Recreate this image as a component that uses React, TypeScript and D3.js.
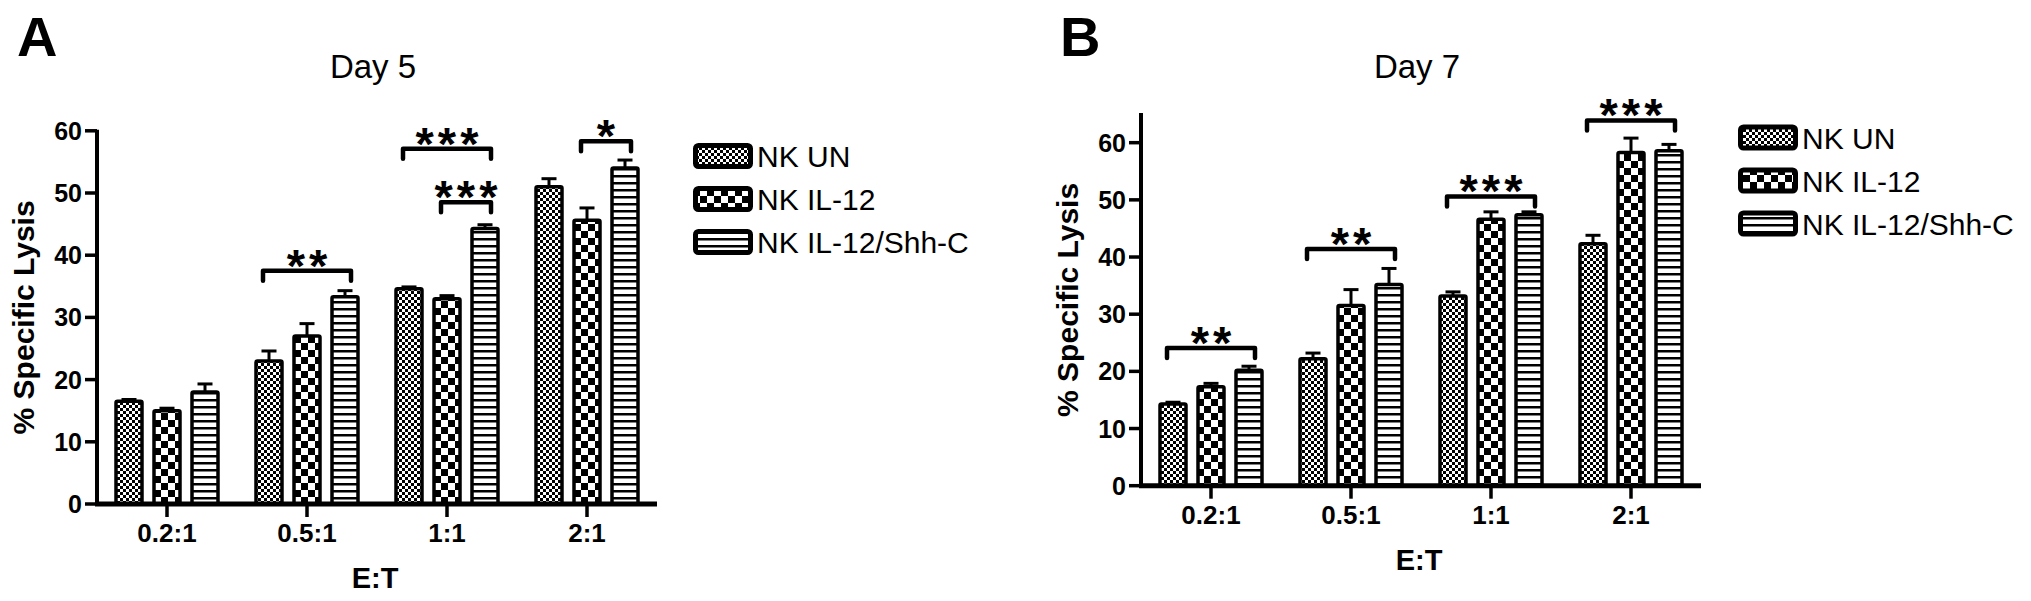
import React from "react";
import * as d3 from "d3";

const categories = ["0.2:1", "0.5:1", "1:1", "2:1"];
const seriesNames = ["NK UN", "NK IL-12", "NK IL-12/Shh-C"];
const patternIds = ["pUN", "pIL", "pSH"];

// Day 5 (panel A)
const day5UN = [16.5, 23, 34.6, 51];
const day5UNErr = [0.3, 1.6, 0.3, 1.3];
const day5IL12 = [15, 27, 33, 45.6];
const day5IL12Err = [0.4, 2, 0.5, 2];
const day5Shh = [18, 33.3, 44.3, 54];
const day5ShhErr = [1.3, 1, 0.6, 1.3];

// Day 7 (panel B)
const day7UN = [14.3, 22.2, 33.2, 42.3];
const day7UNErr = [0.3, 1, 0.7, 1.5];
const day7IL12 = [17.3, 31.5, 46.6, 58.3];
const day7IL12Err = [0.6, 2.8, 1.3, 2.5];
const day7Shh = [20.2, 35.2, 47.4, 58.6];
const day7ShhErr = [0.7, 2.8, 0.5, 1.1];

const yTicks = [0, 10, 20, 30, 40, 50, 60];

// significance brackets: category, from series, to series, bracket height (value), label
const day5Sig = [
  { cat: "0.5:1", from: 0, to: 2, y: 37.5, label: "**" },
  { cat: "1:1", from: 0, to: 2, y: 57.1, label: "***" },
  { cat: "1:1", from: 1, to: 2, y: 48.5, label: "***" },
  { cat: "2:1", from: 1, to: 2, y: 58.3, label: "*" },
];
const day7Sig = [
  { cat: "0.2:1", from: 0, to: 2, y: 24.1, label: "**" },
  { cat: "0.5:1", from: 0, to: 2, y: 41.4, label: "**" },
  { cat: "1:1", from: 0, to: 2, y: 50.6, label: "***" },
  { cat: "2:1", from: 0, to: 2, y: 63.9, label: "***" },
];

const FONT = "'Liberation Sans', Arial, Helvetica, sans-serif";

type PanelProps = {
  letter: string;
  title: string;
  axisX: number;
  yZero: number;
  yMax: number;
  pxPerUnit: number;
  means: number[][];
  errs: number[][];
  sig: { cat: string; from: number; to: number; y: number; label: string }[];
  legendX: number;
  legendY: number;
  letterX: number;
};

function Panel(p: PanelProps) {
  const x0 = d3.scaleBand<string>().domain(categories).range([p.axisX, p.axisX + 560]);
  const x1 = d3.scaleBand<number>().domain([0, 1, 2]).range([13, 127]);
  const y = d3
    .scaleLinear()
    .domain([0, p.yMax])
    .range([p.yZero, p.yZero - p.yMax * p.pxPerUnit]);
  const barW = 26;
  const cx = (cat: string, s: number) => (x0(cat) as number) + (x1(s) as number) + x1.bandwidth() / 2;
  const yTop = y(p.yMax);
  const plotMid = (p.yZero + yTop) / 2;
  const xMid = p.axisX + 280;

  return (
    <g fontFamily={FONT} fill="#000">
      <text x={p.letterX} y={56} fontSize={56} fontWeight="bold">
        {p.letter}
      </text>
      <text x={xMid - 4} y={78} fontSize={33} textAnchor="middle">
        {p.title}
      </text>

      {/* bars with error bars */}
      {categories.map((cat, ci) =>
        [0, 1, 2].map((s) => {
          const v = p.means[s][ci];
          const e = p.errs[s][ci];
          const c = cx(cat, s);
          return (
            <g key={cat + s}>
              <line x1={c} x2={c} y1={y(v)} y2={y(v + e)} stroke="#000" strokeWidth={3} />
              <line x1={c - 7.5} x2={c + 7.5} y1={y(v + e)} y2={y(v + e)} stroke="#000" strokeWidth={3} />
              <rect
                x={c - barW / 2}
                y={y(v)}
                width={barW}
                height={y(0) - y(v)}
                fill={`url(#${patternIds[s]})`}
                stroke="#000"
                strokeWidth={3.5}
                rx={1.5}
              />
            </g>
          );
        })
      )}

      {/* significance brackets */}
      {p.sig.map((b, i) => {
        const xa = cx(b.cat, b.from) - 6;
        const xb = cx(b.cat, b.to) + 6;
        const yy = y(b.y);
        return (
          <g key={"sig" + i}>
            <path
              d={`M${xa},${yy + 10} L${xa},${yy} L${xb},${yy} L${xb},${yy + 10}`}
              fill="none"
              stroke="#000"
              strokeWidth={4.5}
              strokeLinejoin="round"
              strokeLinecap="round"
            />
            <text
              x={(xa + xb) / 2 + 2}
              y={yy + 11}
              fontSize={47}
              fontWeight="bold"
              textAnchor="middle"
              letterSpacing={4}
            >
              {b.label}
            </text>
          </g>
        );
      })}

      {/* y axis */}
      <line x1={p.axisX} x2={p.axisX} y1={yTop - 1} y2={p.yZero + 2} stroke="#000" strokeWidth={4} />
      {yTicks.map((t) => (
        <g key={"yt" + t}>
          <line x1={p.axisX - 12} x2={p.axisX} y1={y(t)} y2={y(t)} stroke="#000" strokeWidth={3.5} />
          <text x={p.axisX - 15} y={y(t) + 9} fontSize={25} fontWeight="bold" textAnchor="end">
            {t}
          </text>
        </g>
      ))}
      <text
        transform={`translate(${p.axisX - 63},${plotMid}) rotate(-90)`}
        fontSize={30}
        fontWeight="bold"
        textAnchor="middle"
      >
        % Specific Lysis
      </text>

      {/* x axis */}
      <line x1={p.axisX - 2} x2={p.axisX + 560} y1={p.yZero} y2={p.yZero} stroke="#000" strokeWidth={5} />
      {categories.map((cat) => {
        const c = (x0(cat) as number) + x0.bandwidth() / 2;
        return (
          <g key={"xt" + cat}>
            <line x1={c} x2={c} y1={p.yZero} y2={p.yZero + 13} stroke="#000" strokeWidth={3.5} />
            <text x={c} y={p.yZero + 38} fontSize={26} fontWeight="bold" textAnchor="middle">
              {cat}
            </text>
          </g>
        );
      })}
      <text x={xMid - 2} y={p.yZero + 84} fontSize={29} fontWeight="bold" textAnchor="middle">
        E:T
      </text>

      {/* legend */}
      {seriesNames.map((name, i) => {
        const cy = p.legendY + i * 43;
        return (
          <g key={"lg" + i}>
            <rect
              x={p.legendX + 2.5}
              y={cy - 10.5}
              width={55}
              height={21}
              fill={`url(#${patternIds[i]})`}
              stroke="#000"
              strokeWidth={5}
              rx={3}
            />
            <text x={p.legendX + 64} y={cy + 11} fontSize={30}>
              {name}
            </text>
          </g>
        );
      })}
    </g>
  );
}

export default function App() {
  return (
    <svg
      width={2031}
      height={601}
      style={{ position: "absolute", left: 0, top: 0, background: "#fff" }}
    >
      <defs>
        <pattern id="pUN" width={6} height={6} patternUnits="userSpaceOnUse">
          <rect width={6} height={6} fill="#fff" />
          <rect x={0} y={0} width={3} height={3} fill="#000" />
          <rect x={3} y={3} width={3} height={3} fill="#000" />
        </pattern>
        <pattern id="pIL" width={14} height={14} patternUnits="userSpaceOnUse">
          <rect width={14} height={14} fill="#fff" />
          <rect x={0} y={0} width={7} height={7} fill="#000" />
          <rect x={7} y={7} width={7} height={7} fill="#000" />
        </pattern>
        <pattern id="pSH" width={7} height={7} patternUnits="userSpaceOnUse">
          <rect width={7} height={7} fill="#fff" />
          <rect x={0} y={0} width={7} height={2.5} fill="#000" />
        </pattern>
      </defs>
      <rect width={2031} height={601} fill="#fff" />
      <Panel
        letter="A"
        title="Day 5"
        axisX={97}
        yZero={504}
        yMax={60}
        pxPerUnit={6.22}
        means={[day5UN, day5IL12, day5Shh]}
        errs={[day5UNErr, day5IL12Err, day5ShhErr]}
        sig={day5Sig}
        legendX={693}
        legendY={156}
        letterX={17}
      />
      <Panel
        letter="B"
        title="Day 7"
        axisX={1141}
        yZero={485.7}
        yMax={65}
        pxPerUnit={5.717}
        means={[day7UN, day7IL12, day7Shh]}
        errs={[day7UNErr, day7IL12Err, day7ShhErr]}
        sig={day7Sig}
        legendX={1738}
        legendY={137.5}
        letterX={1060}
      />
    </svg>
  );
}
